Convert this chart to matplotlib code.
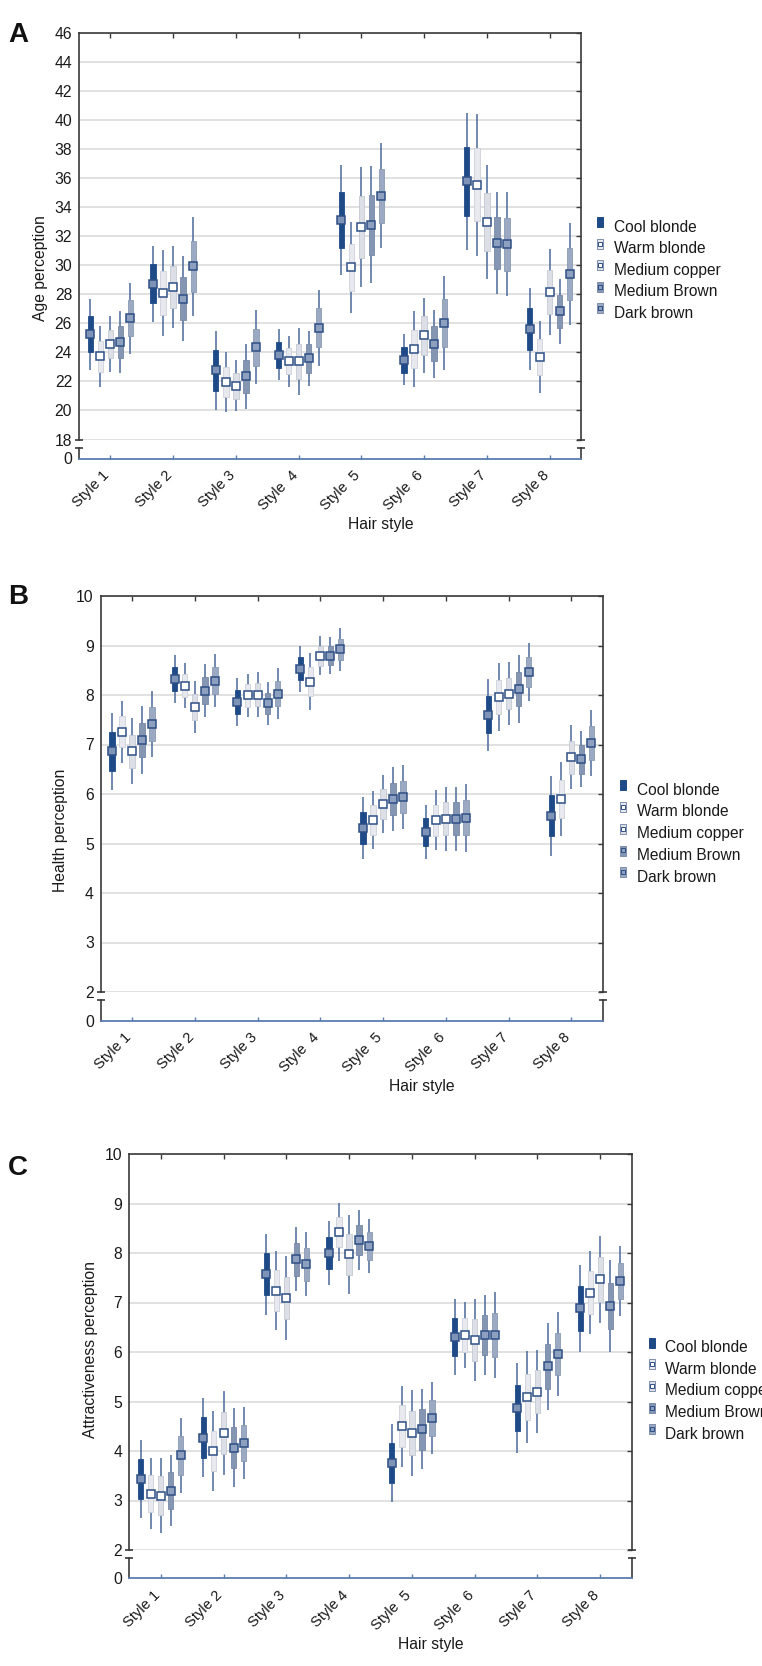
import matplotlib
matplotlib.use('Agg')
import matplotlib.pyplot as plt
from matplotlib.patches import Rectangle
from matplotlib.lines import Line2D
from matplotlib.transforms import ScaledTranslation
import numpy as np

plt.rcParams['font.family'] = ['Liberation Sans', 'DejaVu Sans']

W, H, DPI = 762, 1666, 100

# ---------------- data ----------------
styles = ['Style 1', 'Style 2', 'Style 3', 'Style 4', 'Style 5', 'Style 6', 'Style 7', 'Style 8']
styles_a = ['Style 1', 'Style 2', 'Style 3', 'Style  4', 'Style  5', 'Style  6', 'Style 7', 'Style 8']
styles_b = ['Style 1', 'Style 2', 'Style 3', 'Style  4', 'Style  5', 'Style  6', 'Style 7', 'Style 8']
styles_c = ['Style 1', 'Style 2', 'Style 3', 'Style 4', 'Style  5', 'Style  6', 'Style 7', 'Style 8']
hair_colours = ['Cool blonde', 'Warm blonde', 'Medium copper', 'Medium Brown', 'Dark brown']

# A: age perception (mean, standard error)
age_mean_cool = [25.26, 28.73, 22.76, 23.84, 33.12, 23.49, 35.78, 25.60]
age_mean_warm = [23.72, 28.09, 21.95, 23.38, 29.85, 24.23, 35.55, 23.68]
age_mean_copper = [24.57, 28.50, 21.70, 23.38, 32.63, 25.17, 32.98, 28.15]
age_mean_medbrown = [24.71, 27.70, 22.34, 23.58, 32.79, 24.60, 31.53, 26.82]
age_mean_dark = [26.36, 29.92, 24.34, 25.70, 34.79, 26.02, 31.46, 29.39]
age_se_cool = [1.25, 1.33, 1.40, 0.90, 1.93, 0.90, 2.40, 1.43]
age_se_warm = [1.07, 1.50, 1.05, 0.90, 1.60, 1.32, 2.50, 1.27]
age_se_copper = [0.99, 1.45, 0.90, 1.18, 2.12, 1.33, 2.00, 1.50]
age_se_medbrown = [1.10, 1.50, 1.15, 0.97, 2.05, 1.20, 1.80, 1.15]
age_se_dark = [1.25, 1.75, 1.30, 1.33, 1.85, 1.65, 1.82, 1.78]

# B: health perception
health_mean_cool = [6.86, 8.32, 7.86, 8.53, 5.32, 5.23, 7.60, 5.56]
health_mean_warm = [7.26, 8.19, 7.99, 8.27, 5.47, 5.47, 7.96, 5.90]
health_mean_copper = [6.86, 7.76, 8.01, 8.79, 5.80, 5.50, 8.03, 6.74]
health_mean_medbrown = [7.09, 8.09, 7.83, 8.79, 5.90, 5.50, 8.12, 6.70]
health_mean_dark = [7.42, 8.29, 8.03, 8.92, 5.94, 5.52, 8.46, 7.03]
health_se_cool = [0.40, 0.245, 0.25, 0.235, 0.32, 0.28, 0.37, 0.41]
health_se_warm = [0.32, 0.23, 0.225, 0.29, 0.30, 0.31, 0.35, 0.38]
health_se_copper = [0.34, 0.27, 0.235, 0.20, 0.30, 0.33, 0.32, 0.33]
health_se_medbrown = [0.35, 0.27, 0.22, 0.19, 0.33, 0.33, 0.35, 0.29]
health_se_dark = [0.34, 0.27, 0.26, 0.22, 0.33, 0.35, 0.30, 0.34]

# C: attractiveness perception
attr_mean_cool = [3.43, 4.27, 7.57, 8.00, 3.76, 6.30, 4.87, 6.88]
attr_mean_warm = [3.14, 4.00, 7.24, 8.43, 4.50, 6.34, 5.09, 7.20]
attr_mean_copper = [3.10, 4.36, 7.09, 7.97, 4.36, 6.24, 5.20, 7.47]
attr_mean_medbrown = [3.20, 4.07, 7.87, 8.26, 4.44, 6.34, 5.71, 6.93]
attr_mean_dark = [3.91, 4.16, 7.77, 8.14, 4.67, 6.34, 5.96, 7.43]
attr_se_cool = [0.40, 0.41, 0.42, 0.33, 0.40, 0.39, 0.46, 0.45]
attr_se_warm = [0.37, 0.41, 0.41, 0.30, 0.42, 0.34, 0.47, 0.43]
attr_se_copper = [0.39, 0.43, 0.43, 0.41, 0.44, 0.42, 0.43, 0.45]
attr_se_medbrown = [0.37, 0.41, 0.33, 0.31, 0.41, 0.41, 0.45, 0.47]
attr_se_dark = [0.39, 0.37, 0.33, 0.28, 0.37, 0.44, 0.43, 0.36]

age_ticks = [18, 20, 22, 24, 26, 28, 30, 32, 34, 36, 38, 40, 42, 44, 46]
score_ticks = [2, 3, 4, 5, 6, 7, 8, 9, 10]

# ---------------- style ----------------
offsets = [-0.32, -0.16, 0.0, 0.16, 0.32]
box_face = ['#1e4a87', '#e7e9ee', '#dcdfe6', '#8596b3', '#9ba9c2']
box_edge = ['#1e4a87', '#cdd1da', '#c2c8d2', '#7788a7', '#8a9ab5']
mark_face = ['#7e93b8', '#ffffff', '#ffffff', '#8ea0c0', '#8ea0c0']
mark_edge = '#2e4f85'
whisk_col = '#4a6a9b'
spine_col = '#3a3a3a'
base_col = '#5a7db0'
grid_col = '#dedede'
txt_col = '#1a1a1a'

FS_TICK_Y = 11.3
FS_TICK_X = 10.6
FS_LABEL = 11.3
FS_LEG = 11.2

fig = plt.figure(figsize=(W / DPI, H / DPI), dpi=DPI)
label_shift = ScaledTranslation(-3 / DPI, -5 / DPI, fig.dpi_scale_trans)


def fx(x):
    return x / W


def fy(y):
    return 1 - y / H


def add_ax(l, t, r, b):
    return fig.add_axes([l / W, 1 - b / H, (r - l) / W, (b - t) / H])


def cap(ax, y):
    ax.plot([0, 1], [y, y], transform=ax.transAxes, ls='none', marker='_',
            ms=6, mew=1.2, color=spine_col, clip_on=False, zorder=6)


def panel(geom, ylim, yticks, means, ses, xlabels, ylabel, ylab_xy,
          letter, letter_xy, xlab_xy, leg):
    l, t, r, b, st, sb = geom
    ax = add_ax(l, t, r, b)
    axs = add_ax(l, st, r, sb)
    x0 = np.arange(1, len(styles) + 1)
    for j in range(len(hair_colours)):
        m = np.asarray(means[j])
        s = np.asarray(ses[j])
        x = x0 + offsets[j]
        ax.vlines(x, m - 1.96 * s, m + 1.96 * s, color=whisk_col, lw=1.1, zorder=2)
        ax.bar(x, 2 * s, bottom=m - s, width=0.085, color=box_face[j],
               edgecolor=box_edge[j], lw=0.6, zorder=3)
        ax.plot(x, m, ls='none', marker='s', ms=5.3, mfc=mark_face[j],
                mec=mark_edge, mew=1.1, zorder=4)
    ax.set_xlim(0.5, 8.5)
    ax.set_ylim(*ylim)
    ax.set_yticks(yticks)
    ax.set_yticklabels([str(v) for v in yticks])
    ax.set_xticks(x0)
    ax.yaxis.grid(True, color=grid_col, lw=1.3)
    ax.set_axisbelow(True)
    ax.spines['bottom'].set_visible(False)
    for sp in ['left', 'top', 'right']:
        ax.spines[sp].set_color(spine_col)
        ax.spines[sp].set_linewidth(1.2)
    ax.tick_params(axis='x', bottom=False, top=True, labelbottom=False,
                   direction='in', length=3.5, width=1.0, color=spine_col)
    ax.tick_params(axis='y', left=False, right=True, direction='in', length=3.8,
                   width=1.0, color=spine_col, labelsize=FS_TICK_Y, pad=5.0,
                   labelcolor=txt_col)
    cap(ax, 0)

    axs.set_xlim(0.5, 8.5)
    axs.set_ylim(0, 1)
    axs.set_yticks([0])
    axs.set_yticklabels(['0'])
    axs.set_xticks(x0)
    axs.spines['top'].set_visible(False)
    for sp in ['left', 'right']:
        axs.spines[sp].set_color(spine_col)
        axs.spines[sp].set_linewidth(1.2)
    axs.spines['bottom'].set_color(base_col)
    axs.spines['bottom'].set_linewidth(1.3)
    axs.tick_params(axis='x', direction='in', length=3.2, width=1.0, color=base_col,
                    labelsize=FS_TICK_X, pad=7.0, labelcolor=txt_col)
    axs.tick_params(axis='y', left=False, direction='in', labelsize=FS_TICK_Y,
                    pad=5.0, labelcolor=txt_col)
    axs.set_xticklabels(xlabels, rotation=45, ha='right', va='center',
                        rotation_mode='anchor')
    for lab in axs.get_xticklabels():
        lab.set_transform(lab.get_transform() + label_shift)
    axs.patch.set_alpha(0)
    cap(axs, 1)

    fig.text(fx(ylab_xy[0]), fy(ylab_xy[1]), ylabel, rotation=90, ha='center',
             va='center', fontsize=FS_LABEL, color=txt_col)
    fig.text(fx(letter_xy[0]), fy(letter_xy[1]), letter, fontsize=20,
             fontweight='bold', ha='left', va='baseline', color='#111111')
    fig.text(fx(xlab_xy[0]), fy(xlab_xy[1]), 'Hair style', ha='center',
             va='center', fontsize=FS_LABEL, color=txt_col)

    # legend
    mx, tx, base, dy = leg
    for j, name in enumerate(hair_colours):
        yb = base + j * dy
        yc = yb - 9.5
        fig.add_artist(Rectangle((fx(mx), fy(yc + 5)), 6 / W, 10 / H,
                                 transform=fig.transFigure, facecolor=box_face[j],
                                 edgecolor=(box_face[j] if j == 0 else '#7c8cab'),
                                 lw=0.7))
        if j > 0:
            fig.add_artist(Line2D([fx(mx + 3)], [fy(yc)], transform=fig.transFigure,
                                  ls='none', marker='s', ms=2.6,
                                  mfc=mark_face[j], mec=mark_edge, mew=0.7))
        fig.text(fx(tx), fy(yb), name, ha='left', va='baseline',
                 fontsize=FS_LEG, color=txt_col)
    return ax


panel((79, 33, 581, 439.5, 447.5, 458.5), (18, 46), age_ticks,
      [age_mean_cool, age_mean_warm, age_mean_copper, age_mean_medbrown, age_mean_dark],
      [age_se_cool, age_se_warm, age_se_copper, age_se_medbrown, age_se_dark],
      styles_a, 'Age perception', (40, 268), 'A', (8, 42), (381, 525),
      (597, 614, 231.7, 21.5))

panel((100.7, 596, 602.7, 992, 1000, 1020.7), (2, 10), score_ticks,
      [health_mean_cool, health_mean_warm, health_mean_copper, health_mean_medbrown, health_mean_dark],
      [health_se_cool, health_se_warm, health_se_copper, health_se_medbrown, health_se_dark],
      styles_b, 'Health perception', (61, 830), 'B', (8, 604), (422, 1087),
      (620, 637, 794.6, 21.8))

panel((129.3, 1154, 631.7, 1550, 1558, 1578.3), (2, 10), score_ticks,
      [attr_mean_cool, attr_mean_warm, attr_mean_copper, attr_mean_medbrown, attr_mean_dark],
      [attr_se_cool, attr_se_warm, attr_se_copper, attr_se_medbrown, attr_se_dark],
      styles_c, 'Attractiveness perception', (90, 1349), 'C', (8, 1175), (431, 1644.4),
      (649, 665, 1352, 21.7))

fig.savefig('out.png', dpi=DPI)
